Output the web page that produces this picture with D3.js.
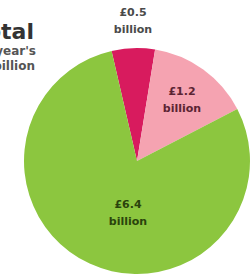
<!DOCTYPE html>
<html>
<head>
<meta charset="utf-8">
<script src="https://cdn.jsdelivr.net/npm/d3@7"></script>
<style>
  html, body { margin: 0; padding: 0; background: #fff; overflow: hidden; }
</style>
</head>
<body>
<div id="chart"></div>
<script>
// PIE CHART - spending split

const categories = ["a", "b", "c"];
const values = [0.5, 1.2, 6.4];
const labels = [["£0.5", "billion"], ["£1.2", "billion"], ["£6.4", "billion"]];
const titleLines = ["Total", "last year's", "£8.1 billion"];

(function () {
  const width = 252;
  const height = 276;
  const cx = 137;
  const cy = 161;
  const radius = 113;

  const colors = ["#d81b5e", "#f5a3b1", "#8cc63f"];
  const textColors = ["#4a4a4a", "#5b2333", "#2a430c"];

  const svg = d3
    .select("#chart")
    .append("svg")
    .attr("width", width)
    .attr("height", height)
    .attr("style", "font-family: 'DejaVu Sans', sans-serif;");

  const data = categories.map((c, i) => ({ key: c, value: values[i], label: labels[i] }));

  const pie = d3
    .pie()
    .sort(null)
    .value((d) => d.value)
    .startAngle((-13 * Math.PI) / 180)
    .endAngle((-13 * Math.PI) / 180 + 2 * Math.PI);

  const arc = d3.arc().innerRadius(0).outerRadius(radius);

  const g = svg.append("g").attr("transform", `translate(${cx},${cy})`);

  const arcs = pie(data);

  g.selectAll("path")
    .data(arcs)
    .enter()
    .append("path")
    .attr("d", arc)
    .attr("fill", (d, i) => colors[i]);

  // label positions (relative to centre): outside for the small slice, inside for others
  const labelPos = [
    { x: -4, y: -145 },
    { x: 45, y: -66 },
    { x: -9, y: 47 },
  ];

  const lab = svg
    .append("g")
    .selectAll("text")
    .data(arcs)
    .enter()
    .append("text")
    .attr("text-anchor", "middle")
    .attr("font-size", "11px")
    .attr("font-weight", "bold")
    .attr("fill", (d, i) => textColors[i])
    .attr("x", (d, i) => cx + labelPos[i].x)
    .attr("y", (d, i) => cy + labelPos[i].y);

  lab
    .selectAll("tspan")
    .data((d) => d.data.label)
    .enter()
    .append("tspan")
    .attr("x", function () {
      return d3.select(this.parentNode).attr("x");
    })
    .attr("dy", (d, i) => (i === 0 ? 0 : 17))
    .text((d) => d);

  // title block, cut off at the left edge
  const title = svg.append("g").attr("text-anchor", "end").attr("fill", "#333");

  title
    .append("text")
    .attr("x", 34)
    .attr("y", 39)
    .attr("font-size", "22px")
    .attr("font-weight", "bold")
    .text(titleLines[0]);

  title
    .append("text")
    .attr("x", 36)
    .attr("y", 55)
    .attr("font-size", "12px")
    .attr("font-weight", "bold")
    .attr("fill", "#555")
    .text(titleLines[1]);

  title
    .append("text")
    .attr("x", 35)
    .attr("y", 70)
    .attr("font-size", "12px")
    .attr("font-weight", "bold")
    .attr("fill", "#555")
    .text(titleLines[2]);
})();
</script>
</body>
</html>
